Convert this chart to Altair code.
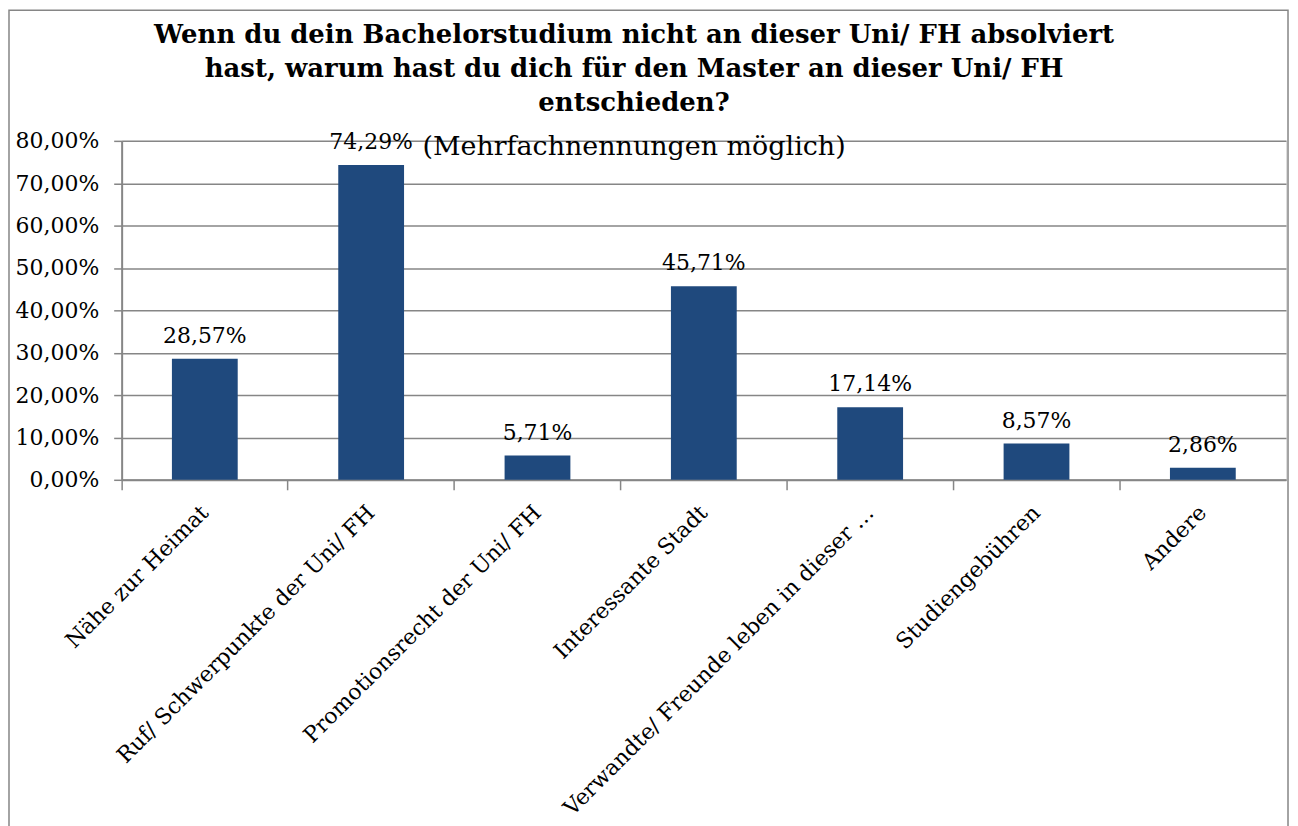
import altair as alt
import pandas as pd

categories = [
    "Nähe zur Heimat",
    "Ruf/ Schwerpunkte der Uni/ FH",
    "Promotionsrecht der Uni/ FH",
    "Interessante Stadt",
    "Verwandte/ Freunde leben in dieser …",
    "Studiengebühren",
    "Andere",
]
values = [28.57, 74.29, 5.71, 45.71, 17.14, 8.57, 2.86]
y_ticks = [0, 10, 20, 30, 40, 50, 60, 70, 80]

title_lines = [
    "Wenn du dein Bachelorstudium nicht an dieser Uni/ FH absolviert",
    "hast, warum hast du dich für den Master an dieser Uni/ FH",
    "entschieden?",
]
subtitle = "(Mehrfachnennungen möglich)"

df = pd.DataFrame({"cat": categories, "v": values})

FONT = "DejaVu Serif"
GRAY = "#868686"
BAR = "#1F497D"

x_enc = alt.X(
    "cat:N",
    sort=categories,
    scale=alt.Scale(paddingInner=0, paddingOuter=0),
    axis=alt.Axis(
        title=None,
        labelAngle=-45,
        labelAlign="right",
        labelBaseline="middle",
        labelFont=FONT,
        labelFontSize=22,
        labelColor="black",
        labelPadding=19,
        bandPosition=0,
        ticks=True,
        tickSize=10,
        tickColor=GRAY,
        tickWidth=1.5,
        domainColor=GRAY,
        domainWidth=2,
        grid=False,
        labelLimit=600,
    ),
)
y_enc = alt.Y(
    "v:Q",
    scale=alt.Scale(domain=[0, 80], nice=False),
    axis=alt.Axis(
        title=None,
        values=y_ticks,
        labelExpr="replace(format(datum.value, '.2f'), '.', ',') + '%'",
        labelFont=FONT,
        labelFontSize=22,
        labelColor="black",
        labelPadding=15,
        tickSize=8,
        tickColor=GRAY,
        tickWidth=1.5,
        domainColor=GRAY,
        domainWidth=2,
        grid=True,
        gridColor=GRAY,
        gridWidth=1.5,
    ),
)

bars = alt.Chart(df).mark_bar(size=66, color=BAR).encode(x=x_enc, y=y_enc)

labels = (
    alt.Chart(df)
    .transform_calculate(lab="replace(format(datum.v, '.2f'), '.', ',') + '%'")
    .mark_text(font=FONT, fontSize=22, color="black", baseline="bottom", dy=-11)
    .encode(x=alt.X("cat:N", sort=categories), y="v:Q", text="lab:N")
)

border = (
    alt.Chart(pd.DataFrame({"a": [0]}))
    .mark_rect(fill=None, stroke=GRAY, strokeWidth=1.5)
    .encode(
        x=alt.value(-113),
        x2=alt.value(1170),
        y=alt.value(-131),
        y2=alt.value(690),
    )
)

chart = (
    alt.layer(border, bars, labels)
    .properties(
        width=1168,
        height=340,
        autosize=alt.AutoSizeParams(type="none"),
        padding={"left": 114, "top": 132, "right": 4, "bottom": 346},
        title=alt.TitleParams(
            text=title_lines,
            subtitle=subtitle,
            anchor="middle",
            dx=-70,
            font=FONT,
            fontSize=26,
            fontWeight="bold",
            lineHeight=34,
            color="black",
            subtitleFont=FONT,
            subtitleFontSize=27,
            subtitleColor="black",
            subtitlePadding=18,
            offset=-151,
        ),
    )
    .configure_view(stroke=None)
    .configure(background="white")
)

chart.save("out.html", embed_options={"renderer": "svg", "actions": False})
